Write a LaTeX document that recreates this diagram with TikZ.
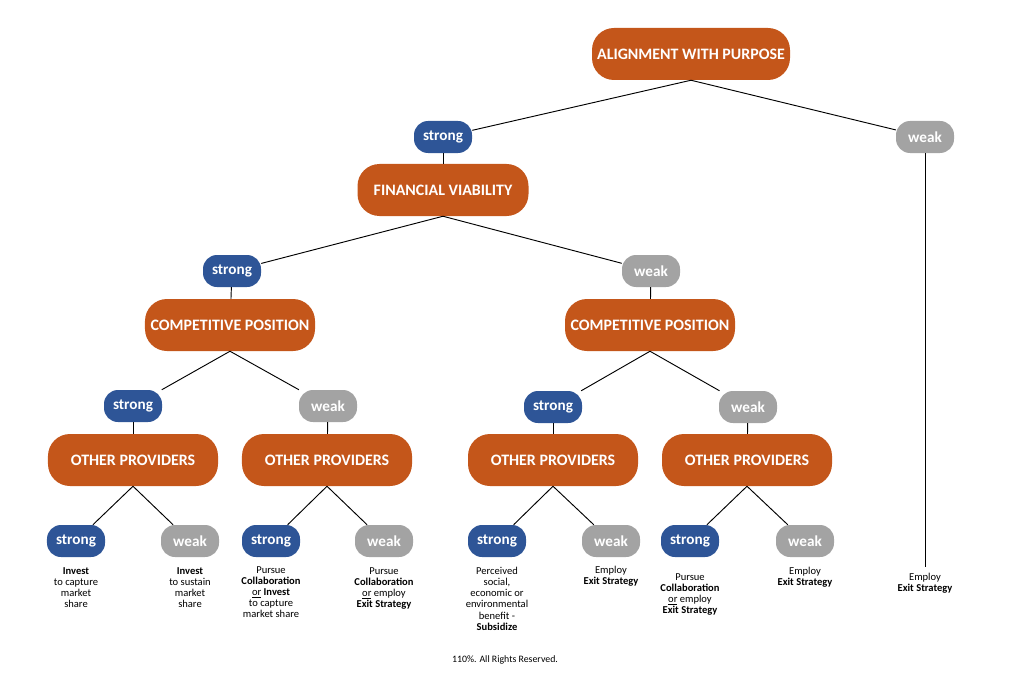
\documentclass[tikz,border=0pt]{standalone}
\usepackage{fontspec}
\setmainfont{Carlito}
\definecolor{burnt}{HTML}{C4561A}
\definecolor{strongblue}{HTML}{2E5597}
\definecolor{weakgray}{HTML}{A3A3A3}

\begin{document}
\begin{tikzpicture}[x=0.03cm,y=-0.03cm,
		factor/.style={fill=burnt, text=white, rounded corners=0.66cm,
			minimum height=1.56cm, minimum width=5.1cm, inner sep=0pt,
			font=\bfseries\fontsize{13.6}{15}\selectfont},
		rating/.style={rounded corners=0.42cm, text=white,
			minimum height=0.96cm, minimum width=1.74cm, inner sep=0pt,
			font=\bfseries\fontsize{13}{15}\selectfont},
		strongbox/.style={rating, fill=strongblue},
		weakbox/.style={rating, fill=weakgray},
		advice/.style={anchor=north, align=center, inner sep=0pt,
			font=\fontsize{9}{9.5}\selectfont},
		link/.style={line width=0.8pt}]
		\useasboundingbox (0,0) rectangle (1009,677);
		
		% top level
		\node[factor, minimum width=5.94cm] (purpose) at (691,54) {ALIGNMENT WITH PURPOSE};
		\node[strongbox] (s0) at (443,137) {strong};
		\node[weakbox] (w0) at (925,137) {weak};
		\node[factor, minimum width=5.13cm] (finance) at (443,190) {FINANCIAL VIABILITY};
		
		% second level
		\node[strongbox] (s1) at (232,271) {strong};
		\node[weakbox] (w1) at (651,271) {weak};
		\node[factor] (compA) at (230,325) {COMPETITIVE POSITION};
		\node[factor] (compB) at (650,325) {COMPETITIVE POSITION};
		
		% third level
		\node[strongbox] (s2) at (133,406) {strong};
		\node[weakbox] (w2) at (328,406) {weak};
		\node[strongbox] (s3) at (553,407) {strong};
		\node[weakbox] (w3) at (748,407) {weak};
		\node[factor] (provA) at (133,460) {OTHER PROVIDERS};
		\node[factor] (provB) at (327,460) {OTHER PROVIDERS};
		\node[factor] (provC) at (553,460) {OTHER PROVIDERS};
		\node[factor] (provD) at (747,460) {OTHER PROVIDERS};
		
		% leaves
		\node[strongbox] (sa) at (76,541) {strong};
		\node[weakbox] (wa) at (190,541) {weak};
		\node[strongbox] (sb) at (271,541) {strong};
		\node[weakbox] (wb) at (384,541) {weak};
		\node[strongbox] (sc) at (497,541) {strong};
		\node[weakbox] (wc) at (611,541) {weak};
		\node[strongbox] (sd) at (690,541) {strong};
		\node[weakbox] (wd) at (805,541) {weak};
		
		\node[advice] (ta) at (76,567) {\textbf{Invest}\\to capture\\market\\share};
		\node[advice] (tb) at (190,567) {\textbf{Invest}\\to sustain\\market\\share};
		\node[advice] (tc) at (271,566) {Pursue\\\textbf{Collaboration}\\\underline{or} \textbf{Invest}\\to capture\\market share};
		\node[advice] (td) at (384,567) {Pursue\\\textbf{Collaboration}\\\underline{or} employ\\\textbf{Exit Strategy}};
		\node[advice] (te) at (497,567) {Perceived\\social,\\economic or\\environmental\\benefit -\\\textbf{Subsidize}};
		\node[advice] (tf) at (611,566) {Employ\\\textbf{Exit Strategy}};
		\node[advice] (tg) at (690,573) {Pursue\\\textbf{Collaboration}\\\underline{or} employ\\\textbf{Exit Strategy}};
		\node[advice] (th) at (805,567) {Employ\\\textbf{Exit Strategy}};
		\coordinate (wEnd) at (925,567);
		\node[advice] (ti) at (925,573) {Employ\\\textbf{Exit Strategy}};
		
		\node[font=\fontsize{8.4}{10}\selectfont] (rights) at (505,660) {110\%. All Rights Reserved.};
		
		% connectors
		\draw[link] (purpose.south) -- (s0);
		\draw[link] (purpose.south) -- (w0);
		\draw[link] (w0) -- (wEnd);
		\draw[link] (s0) -- (finance);
		\draw[link] (finance.south) -- (s1);
		\draw[link] (finance.south) -- (w1);
		\draw[link] (s1) -- (compA);
		\draw[link] (w1) -- (compB);
		\draw[link] (compA.south) -- (s2);
		\draw[link] (compA.south) -- (w2);
		\draw[link] (compB.south) -- (s3);
		\draw[link] (compB.south) -- (w3);
		\draw[link] (s2) -- (provA);
		\draw[link] (w2) -- (provB);
		\draw[link] (s3) -- (provC);
		\draw[link] (w3) -- (provD);
		\draw[link] (provA.south) -- (sa);
		\draw[link] (provA.south) -- (wa);
		\draw[link] (provB.south) -- (sb);
		\draw[link] (provB.south) -- (wb);
		\draw[link] (provC.south) -- (sc);
		\draw[link] (provC.south) -- (wc);
		\draw[link] (provD.south) -- (sd);
		\draw[link] (provD.south) -- (wd);
	\end{tikzpicture}
\end{document}
